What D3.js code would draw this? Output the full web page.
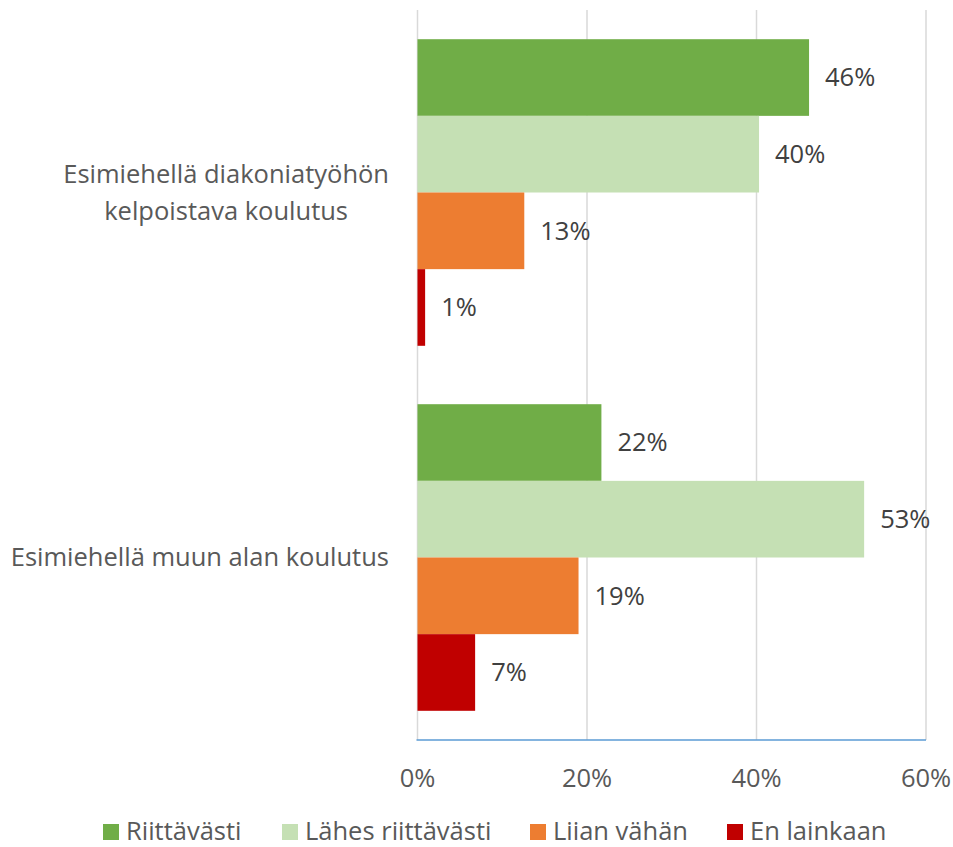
<!DOCTYPE html>
<html><head><meta charset="utf-8">
<script src="https://cdn.jsdelivr.net/npm/d3@7"></script>
<style>body{margin:0;background:#fff}svg{display:block}text{font-family:"Open Sans",sans-serif}</style>
</head><body>
<svg id="c" width="953" height="847"></svg>
<script>
const categories = [["Esimiehellä diakoniatyöhön","kelpoistava koulutus"],["Esimiehellä muun alan koulutus"]];
const seriesNames = ["Riittävästi","Lähes riittävästi","Liian vähän","En lainkaan"];
const seriesColors = ["#70AD47","#C5E0B4","#ED7D31","#C00000"];
const riittavasti = [46.2, 21.7];
const lahes = [40.3, 52.7];
const liian = [12.6, 19.0];
const enLainkaan = [0.9, 6.8];
const valueLabels = [["46%","22%"],["40%","53%"],["13%","19%"],["1%","7%"]];
const xTicks = [0,20,40,60];

const FS = 25.5;
const series = [riittavasti, lahes, liian, enLainkaan];
const svg = d3.select("#c");
const x = d3.scaleLinear().domain([0,60]).range([417.5,926]);
const y0 = d3.scaleBand().domain(d3.range(categories.length)).range([10,740]).paddingInner(0.16).paddingOuter(0.08);
const y1 = d3.scaleBand().domain(d3.range(series.length)).range([0,y0.bandwidth()]);

svg.append("g").selectAll("line").data(xTicks).join("line")
  .attr("x1",d=>x(d)).attr("x2",d=>x(d)).attr("y1",10).attr("y2",740)
  .attr("stroke","#D9D9D9").attr("stroke-width",1.5);

series.forEach((s,si)=>{
  svg.append("g").selectAll("rect").data(s).join("rect")
    .attr("x",x(0)).attr("y",(d,i)=>y0(i)+y1(si))
    .attr("width",d=>x(d)-x(0)).attr("height",y1.bandwidth())
    .attr("fill",seriesColors[si]);
  svg.append("g").selectAll("text").data(s).join("text")
    .attr("x",d=>x(d)+16).attr("y",(d,i)=>y0(i)+y1(si)+y1.bandwidth()/2)
    .attr("dy","0.35em").attr("font-size",FS).attr("fill","#404040")
    .text((d,i)=>valueLabels[si][i]);
});

svg.append("line").attr("x1",x(0)-1).attr("x2",x(60)).attr("y1",740).attr("y2",740)
  .attr("stroke","#5B9BD5").attr("stroke-width",1.5);

svg.append("g").selectAll("text").data(xTicks).join("text")
  .attr("x",d=>x(d)).attr("y",778).attr("dy","0.35em").attr("text-anchor","middle")
  .attr("font-size",FS).attr("fill","#595959").text(d=>d+"%");

categories.forEach((lines,i)=>{
  const cy = y0(i)+y0.bandwidth()/2;
  const t = svg.append("text").attr("font-size",FS).attr("fill","#595959").attr("text-anchor","middle");
  const lh = 37;
  const spans = lines.map((ln,k)=>t.append("tspan").attr("y", cy + (k-(lines.length-1)/2)*lh).attr("dy","0.35em").text(ln));
  const w = d3.max(spans, s=>s.node().getComputedTextLength());
  spans.forEach(s=>s.attr("x", 389 - w/2));
});

const legX = [103,282,530,727];
const lg = svg.append("g").selectAll("g").data(seriesNames).join("g")
  .attr("transform",(d,i)=>`translate(${legX[i]},831)`);
lg.append("rect").attr("x",0).attr("y",-7).attr("width",16).attr("height",16).attr("fill",(d,i)=>seriesColors[i]);
lg.append("text").attr("x",23).attr("y",0).attr("dy","0.35em").attr("font-size",FS).attr("fill","#595959").text(d=>d);
</script>
</body></html>
